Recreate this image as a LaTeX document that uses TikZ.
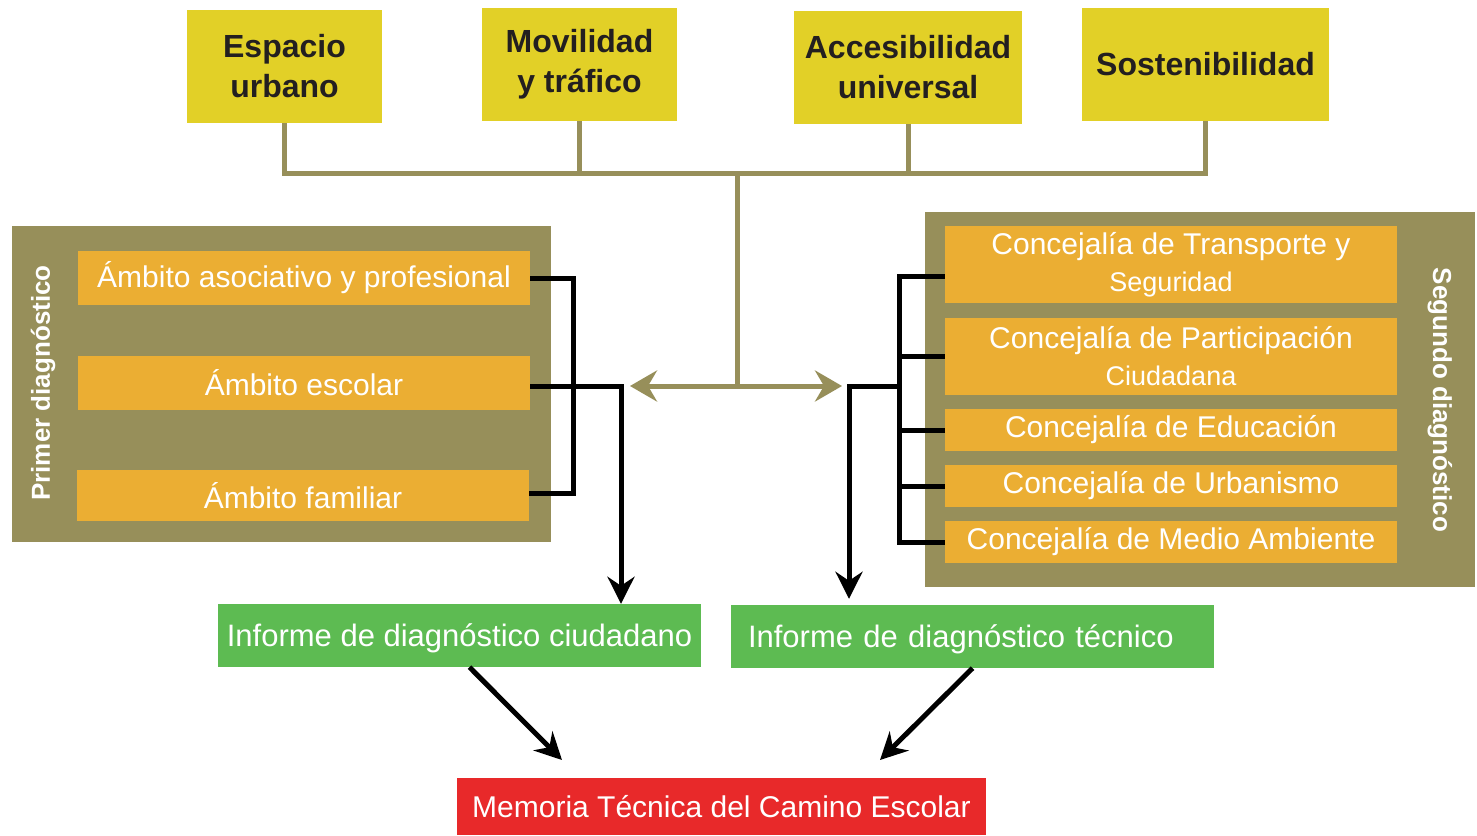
\documentclass[tikz,border=0pt]{standalone}
\usepackage{fontspec}
\setmainfont{Liberation Sans}
\usetikzlibrary{arrows.meta,calc}
\definecolor{ylw}{HTML}{E2D027}
\definecolor{olv}{HTML}{978F5A}
\definecolor{org}{HTML}{EBAE33}
\definecolor{grn}{HTML}{5DBB52}
\definecolor{rd}{HTML}{E8292A}
\definecolor{dk}{HTML}{231F20}
\tikzset{
  ybox/.style={fill=ylw, inner sep=0pt, align=center, text=dk, font=\fontsize{32}{40}\selectfont\bfseries},
  panel/.style={fill=olv, inner sep=0pt},
  obox/.style={fill=org, inner sep=0pt, align=center, text=white, font=\fontsize{30}{36}\selectfont},
  gbox/.style={fill=grn, inner sep=0pt, text=white, text depth=0pt, font=\fontsize{31}{36}\selectfont},
  rbox/.style={fill=rd, inner sep=0pt, text=white, text depth=0pt, font=\fontsize{30}{36}\selectfont},
  vlab/.style={text=white, font=\fontsize{26}{30}\selectfont\bfseries},
  oline/.style={draw=olv, line width=5pt},
  bline/.style={draw=black, line width=5pt},
  barrow/.style={bline, -{Stealth[length=27pt,width=27pt,inset=9pt]}},
  oarrow/.style={oline, {Stealth[length=27pt,width=31pt,inset=9pt]}-{Stealth[length=27pt,width=31pt,inset=9pt]}},
}
\begin{document}
\begin{tikzpicture}[x=1pt,y=-1pt]
\useasboundingbox (0,0) rectangle (1477,835);
\fill[white] (0,0) rectangle (1477,835);

% top boxes
\node[ybox, minimum width=195, minimum height=113] (esp) at (284.5,66.5) {Espacio\\urbano};
\node[ybox, minimum width=195, minimum height=113] (mov) at (579.5,64.5) {Movilidad\\y tráfico};
\node[ybox, minimum width=228, minimum height=113] (acc) at (908,67.5) {Accesibilidad\\universal};
\node[ybox, minimum width=247, minimum height=113] (sos) at (1205.5,64.5) {Sostenibilidad};

% panels
\node[panel, minimum width=539, minimum height=316] (lp) at (281.5,384) {};
\node[panel, minimum width=550, minimum height=375] (rp) at (1200,399.5) {};
\node[vlab, rotate=90] (lpl) at (43,383) {Primer diagnóstico};
\node[vlab, rotate=-90] (rpl) at (1440,400) {Segundo diagnóstico};

% left boxes
\node[obox, minimum width=452, minimum height=54] (a1) at (304,278) {Ámbito asociativo y profesional};
\node[obox, minimum width=452, minimum height=54] (a2) at (304,383) {Ámbito escolar};
\node[obox, minimum width=452, minimum height=51] (a3) at (303,495.5) {Ámbito familiar};

% right boxes
\node[obox, minimum width=452, minimum height=77] (c1) at (1171,264.5) {Concejalía de Transporte y\\[1pt]{\fontsize{27}{30}\selectfont Seguridad}};
\node[obox, minimum width=452, minimum height=77] (c2) at (1171,356.5) {Concejalía de Participación\\[1pt]{\fontsize{27}{30}\selectfont Ciudadana}};
\node[obox, minimum width=452, minimum height=42] (c3) at (1171,430) {Concejalía de Educación};
\node[obox, minimum width=452, minimum height=42] (c4) at (1171,486) {Concejalía de Urbanismo};
\node[obox, minimum width=452, minimum height=42] (c5) at (1171,542) {Concejalía de Medio Ambiente};

% reports
\node[gbox, minimum width=483, minimum height=63, align=center] (ic) at (459.5,635.5) {Informe de diagnóstico ciudadano};
\node[gbox, minimum width=483, minimum height=63, text width=449, inner xsep=17pt, align=left] (it) at (972.5,636.5) {Informe de diagnóstico técnico};
\node[rbox, minimum width=529, minimum height=57] (mem) at (721.5,806.5) {Memoria Técnica del Camino Escolar};

% olive bus
\coordinate (bus) at (737,173);
\coordinate (mid) at (737,386);
\coordinate (la) at (630,386);
\coordinate (ra) at (842,386);
\draw[oline] (esp.south) -- (esp.south |- bus) -- (sos.south |- bus) -- (sos.south);
\draw[oline] (mov.south) -- (mov.south |- bus);
\draw[oline] (acc.south) -- (acc.south |- bus);
\draw[oline] (bus) -- (mid);
\draw[oarrow] (la) -- (ra);

% left bracket
\coordinate (lx) at (573,0);
\coordinate (bx) at (621,0);
\draw[bline] (a1.east |- 0,278) -| (lx |- 0,493) -- (a3.east |- 0,493);
\draw[barrow] (a2.east |- 0,386) -| (ic.north -| bx);

% right bracket
\coordinate (rx) at (899,0);
\coordinate (rx2) at (849,0);
\draw[bline] (c1.west |- 0,276) -| (rx |- 0,542) -- (c5.west);
\draw[bline] (c2.west) -- (c2.west -| rx);
\draw[bline] (c3.west) -- (c3.west -| rx);
\draw[bline] (c4.west) -- (c4.west -| rx);
\draw[barrow] (rx |- 0,386) -| ($(it.north -| rx2)+(0,-6)$);

% to memoria
\coordinate (m1) at (562,760);
\coordinate (m2) at (880,760);
\draw[barrow] ($(ic.south)+(10,0)$) -- (m1);
\draw[barrow] (it.south) -- (m2);
\end{tikzpicture}
\end{document}
